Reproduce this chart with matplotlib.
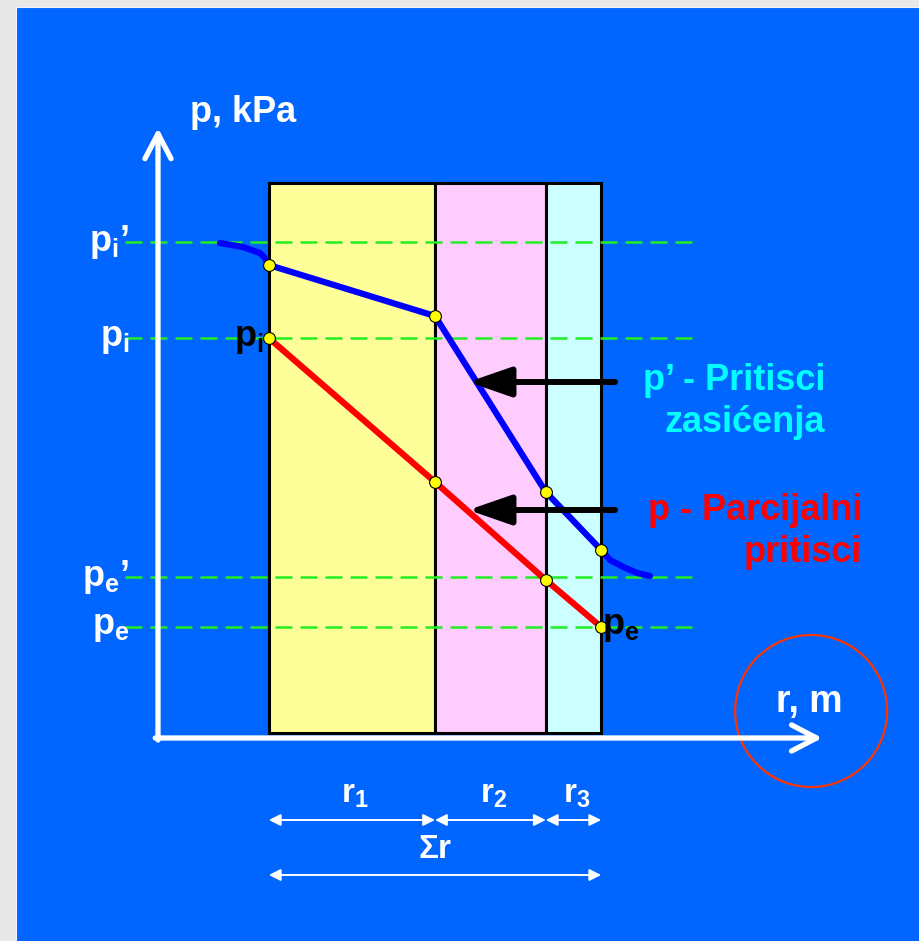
import numpy as np
import matplotlib
matplotlib.use('Agg')
import matplotlib.pyplot as plt
from matplotlib.patches import Rectangle, Ellipse

plt.rcParams['font.family'] = ['Liberation Sans', 'DejaVu Sans']
plt.rcParams['mathtext.fontset'] = 'custom'
plt.rcParams['mathtext.rm'] = 'Liberation Sans'
plt.rcParams['mathtext.bf'] = 'Liberation Sans:bold'
plt.rcParams['mathtext.it'] = 'Liberation Sans:italic'

# wall layers (m)
r_start = 0.2
r_layers = [0.30, 0.20, 0.10]
r_labels = [r'$\mathbf{r_1}$', r'$\mathbf{r_2}$', r'$\mathbf{r_3}$']
layer_colors = ['#ffff99', '#ffccff', '#ccffff']

# reference pressures (kPa): pi', pi, pe', pe
p_levels = [2.48, 2.00, 0.805, 0.555]
p_level_labels = [r'$\mathbf{p_i}$’', r'$\mathbf{p_i}$', r'$\mathbf{p_e}$’', r'$\mathbf{p_e}$']

# saturation pressure p' : boundary layer inside, wall nodes, boundary layer outside
sat_in_r = [0.112, 0.153, 0.184, 0.193]
sat_in_p = [2.475, 2.455, 2.425, 2.40]
sat_nodes = [2.365, 2.11, 1.23, 0.94]
sat_out_r = [0.816, 0.84, 0.865, 0.888]
sat_out_p = [0.89, 0.855, 0.825, 0.81]

# partial pressure p at the wall nodes
part_nodes = [2.00, 1.28, 0.79, 0.555]

nodes = r_start + np.concatenate([[0], np.cumsum(r_layers)])

fig = plt.figure(figsize=(9.19, 9.41), dpi=100)
fig.patch.set_facecolor('#e8e8e8')
fig.patches.append(Rectangle((15.5 / 919, -0.01), 1.0, (941 - 6.5) / 941 + 0.01,
                             transform=fig.transFigure, facecolor='#0066ff',
                             edgecolor='#f0f4ff', lw=0.8, zorder=-1))

ax = fig.add_axes([0, 0, 1, 1])
ax.set_facecolor('none')
ax.axis('off')
ax.set_xlim(-158 / 554, 761 / 554)
ax.set_ylim(-203 / 200, 738 / 200)

# wall layers
ax.bar(nodes[:-1], 2.75, width=r_layers, bottom=0.025, align='edge',
       color=layer_colors, edgecolor='black', linewidth=2.2, zorder=1)

# reference pressure levels
for p, lab in zip(p_levels, p_level_labels):
    ax.plot([-0.06, 0.966], [p, p], color='#22ee22', lw=1.8,
            dashes=(6.8, 3.2), zorder=2)
    ax.text(-0.052, p, lab, color='white', fontsize=26, fontweight='bold',
            ha='right', va='center', zorder=5)

# axes with open arrow heads
axis_arrow = dict(arrowstyle='->,head_length=0.9,head_width=0.47', color='white',
                  lw=3.8, mutation_scale=20, shrinkA=0, shrinkB=0)
ax.annotate('', xy=(0, 3.05), xytext=(0, -0.01), arrowprops=axis_arrow, zorder=4)
ax.annotate('', xy=(1.199, 0), xytext=(-0.005, 0), arrowprops=axis_arrow, zorder=4)
ax.text(0.058, 3.13, 'p, kPa', color='white', fontsize=26, fontweight='bold',
        ha='left', va='center')
ax.text(1.175, 0.18, 'r, m', color='white', fontsize=27, fontweight='bold',
        ha='center', va='center')
ax.add_patch(Ellipse((1.179, 0.135), 152 / 554, 152 / 200, fill=False,
                     edgecolor='#ff3300', lw=1.6, zorder=3))

# pressure curves
sat_r = list(sat_in_r) + list(nodes) + list(sat_out_r)
sat_p = list(sat_in_p) + list(sat_nodes) + list(sat_out_p)
ax.plot(sat_r, sat_p, color='#0000ff', lw=4.5, solid_capstyle='round',
        solid_joinstyle='round', zorder=3)
ax.plot(nodes, part_nodes, color='#ff0000', lw=4.5, solid_capstyle='round', zorder=3)
ax.plot(nodes, sat_nodes, 'o', ms=8.5, mfc='#ffff00', mec='black', mew=0.8, zorder=4)
ax.plot(nodes, part_nodes, 'o', ms=8.5, mfc='#ffff00', mec='black', mew=0.8, zorder=4)

ax.text(nodes[0] - 0.01, part_nodes[0], r'$\mathbf{p_i}$', color='black',
        fontsize=26, ha='right', va='center', zorder=5)
ax.text(nodes[-1] + 0.002, part_nodes[-1], r'$\mathbf{p_e}$', color='black',
        fontsize=26, ha='left', va='center', zorder=5)

# pointers to the curves
pointer = dict(arrowstyle='-|>,head_length=1.3,head_width=0.45', color='black',
               lw=4.3, mutation_scale=20, shrinkA=0, shrinkB=0,
               capstyle='round')
ax.annotate('', xy=(0.56, 1.78), xytext=(0.825, 1.78), arrowprops=pointer, zorder=5)
ax.annotate('', xy=(0.56, 1.14), xytext=(0.825, 1.14), arrowprops=pointer, zorder=5)

ax.text(1.204, 1.79, 'p’ - Pritisci', color='#00ffff', fontsize=26,
        fontweight='bold', ha='right', va='center')
ax.text(1.204, 1.575, 'zasićenja', color='#00ffff', fontsize=26,
        fontweight='bold', ha='right', va='center')
ax.text(1.271, 1.14, 'p - Parcijalni', color='#ff0000', fontsize=26,
        fontweight='bold', ha='right', va='center')
ax.text(1.271, 0.925, 'pritisci', color='#ff0000', fontsize=26,
        fontweight='bold', ha='right', va='center')

# thickness dimensions
dim = dict(arrowstyle='<|-|>,head_length=0.7,head_width=0.35', color='white',
           lw=1.4, mutation_scale=10, shrinkA=0, shrinkB=0)
for a, b, lab in zip(nodes[:-1], nodes[1:], r_labels):
    ax.annotate('', xy=(b, -0.41), xytext=(a, -0.41), arrowprops=dim)
    ax.text((a + b) / 2 + 0.005, -0.28, lab, color='white', fontsize=24,
            ha='center', va='center')
ax.annotate('', xy=(nodes[-1], -0.685), xytext=(nodes[0], -0.685), arrowprops=dim)
ax.text((nodes[0] + nodes[-1]) / 2, -0.56, 'Σr', color='white', fontsize=24,
        fontweight='bold', ha='center', va='center')

fig.savefig('out.png', dpi=100, facecolor=fig.get_facecolor())
